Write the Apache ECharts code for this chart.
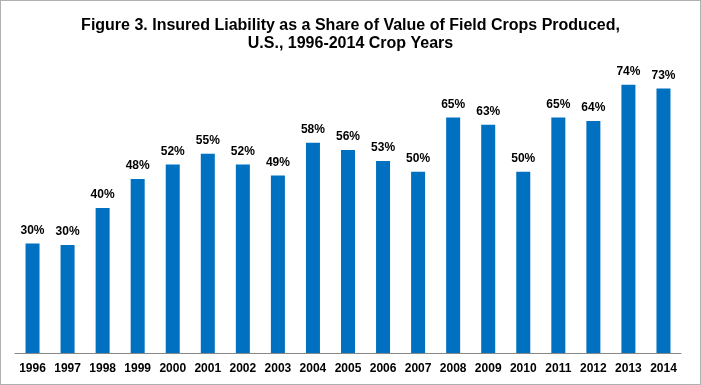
<!DOCTYPE html>
<html><head><meta charset="utf-8">
<script src="https://cdn.jsdelivr.net/npm/echarts@6/dist/echarts.min.js"></script>
<style>html,body{margin:0;padding:0;background:#fff}#c{width:701px;height:385px;box-sizing:border-box;border:1px solid #b0b0b0}</style>
</head><body><div id="c"></div>
<script>
const years = ['1996','1997','1998','1999','2000','2001','2002','2003','2004','2005','2006','2007','2008','2009','2010','2011','2012','2013','2014'];
const shares = [30.2,29.8,40,48,52,55,52,49,58,56,53,50,65,63,50,65,64,74,73];
const titleText = 'Figure 3. Insured Liability as a Share of Value of Field Crops Produced,\nU.S., 1996-2014 Crop Years';
const chart = echarts.init(document.getElementById('c'));
chart.setOption({
  animation:false,
  title:{text:titleText,left:'center',top:11,textStyle:{fontFamily:'Liberation Sans, Arial',fontWeight:'bold',fontSize:16,lineHeight:18,color:'#000'}},
  grid:{left:14,right:19,top:62,bottom:31,containLabel:false},
  xAxis:{type:'category',data:years,axisLine:{lineStyle:{color:'#888',width:1}},axisTick:{show:false},
    axisLabel:{fontFamily:'Liberation Sans, Arial',fontWeight:'bold',fontSize:12,color:'#000',margin:10,interval:0}},
  yAxis:{type:'value',min:0,max:80,show:false,splitLine:{show:false}},
  series:[{type:'bar',data:shares,barWidth:14,itemStyle:{color:'#0070C0'},
    label:{show:true,position:'top',distance:7,formatter:p=>Math.round(p.value)+'%',fontFamily:'Liberation Sans, Arial',fontWeight:'bold',fontSize:12,color:'#000'}}]
});
</script></body></html>
